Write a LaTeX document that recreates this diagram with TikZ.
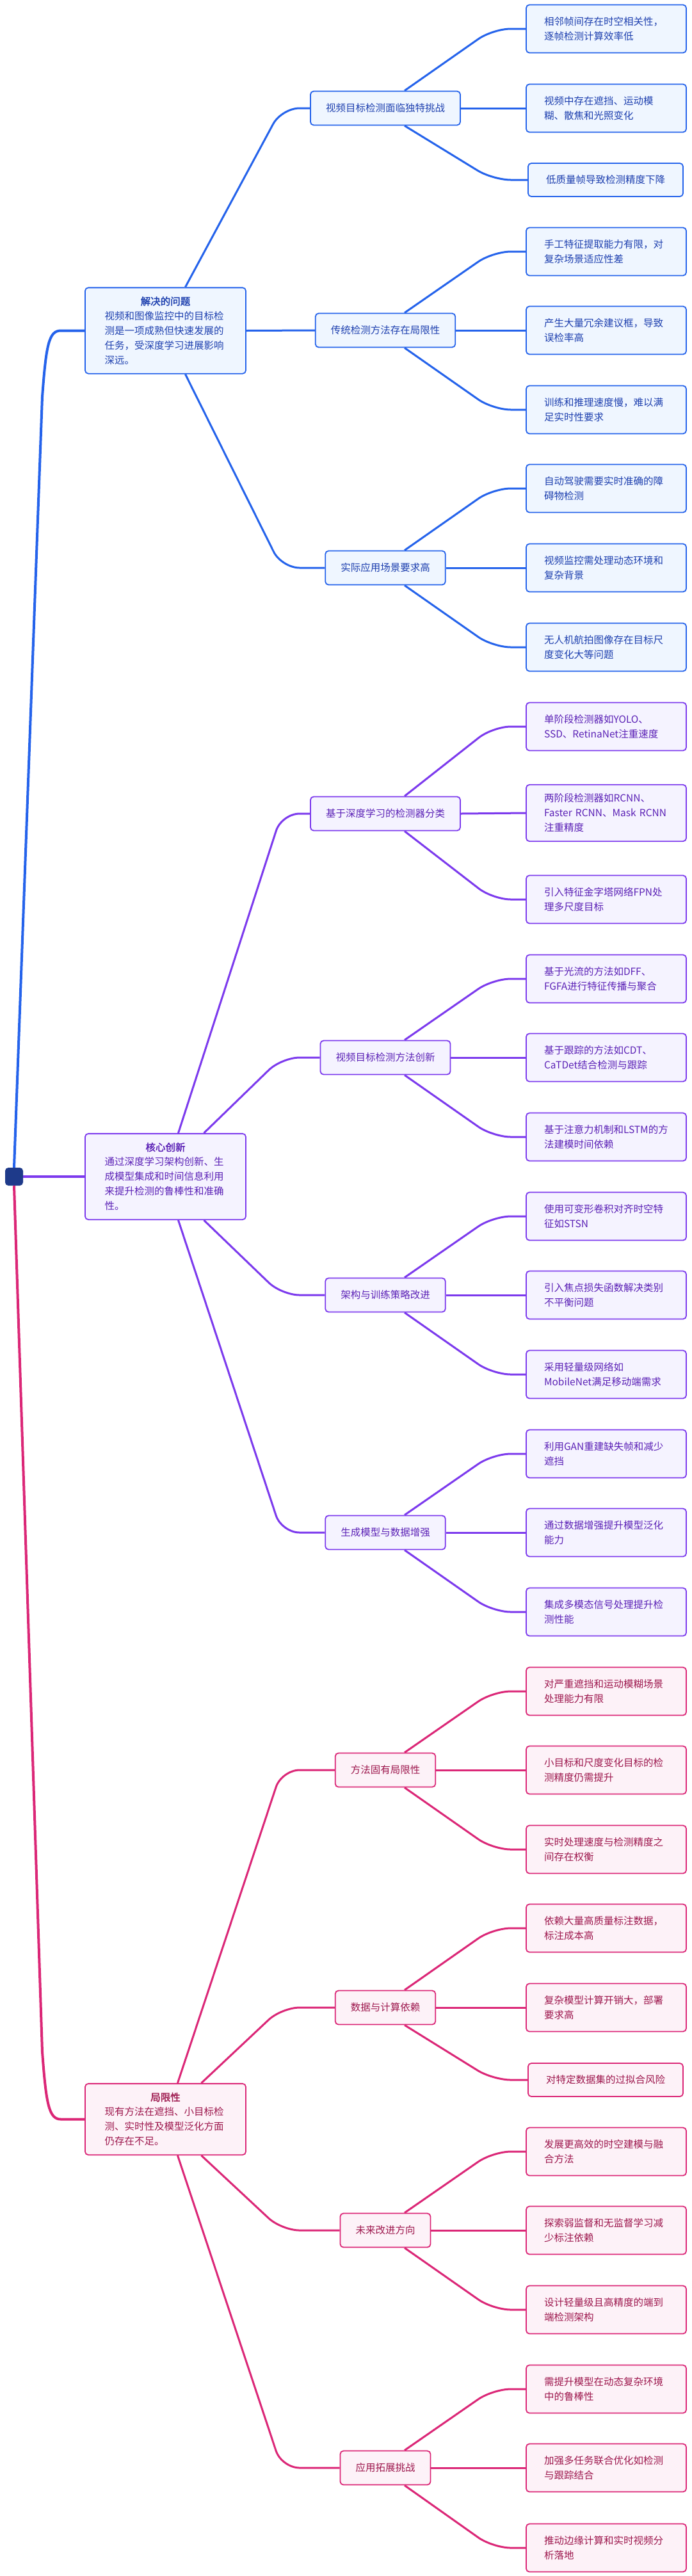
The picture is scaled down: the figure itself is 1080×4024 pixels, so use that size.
\documentclass[tikz,border=0pt]{standalone}
\usepackage{fontspec}
\setmainfont{Noto Sans CJK SC}[AutoFakeBold=2]
\begin{document}
\definecolor{bL}{HTML}{2563EB}\definecolor{bF}{HTML}{EFF6FF}\definecolor{bT}{HTML}{1E40AF}
\definecolor{pL}{HTML}{7C3AED}\definecolor{pF}{HTML}{F5F3FF}\definecolor{pT}{HTML}{5B21B6}
\definecolor{kL}{HTML}{DB2777}\definecolor{kF}{HTML}{FDF2F8}\definecolor{kT}{HTML}{9D174D}
\definecolor{rootc}{HTML}{1E3A8A}
\begin{tikzpicture}[x=1pt,y=-1pt,
  base/.style={draw=#1L,fill=#1F,text=#1T,line width=1.8pt,rounded corners=5pt,font=\fontsize{15.5}{23}\selectfont},
  leaf/.style={base=#1,text width=194pt,inner xsep=28pt,inner ysep=14pt,minimum height=75pt,align=left},
  leaf1/.style={base=#1,minimum width=242pt,minimum height=52pt,align=center},
  mid/.style={base=#1,inner xsep=24pt,minimum height=53pt},
  top/.style={base=#1,text width=190pt,inner xsep=30.5pt,inner ysep=14pt,align=left},
  ln/.style={draw=#1L,line width=3pt,rounded corners=28pt},
  rl/.style={draw=#1L,line width=4pt}]
\useasboundingbox (0,0) rectangle (1080,4024);
\coordinate (bxL) at (770,0);
\coordinate (bxM) at (440,0);
\newcommand\lup[3]{\draw[ln=#1] ([xshift=30pt]#2.north) -- (bxL |- #3.west) -- (#3.west);}
\newcommand\ldn[3]{\draw[ln=#1] ([xshift=30pt]#2.south) -- (bxL |- #3.west) -- (#3.west);}
\newcommand\lst[3]{\draw[ln=#1] (#2.east) -- (#3.west);}
\newcommand\mup[4]{\draw[ln=#1] ([xshift=#4]#2.north) -- (bxM |- #3.west) -- (#3.west);}
\newcommand\mdn[4]{\draw[ln=#1] ([xshift=#4]#2.south) -- (bxM |- #3.west) -- (#3.west);}

% root
\node[fill=rootc,rounded corners=5pt,minimum size=28pt,inner sep=0pt] (R) at (22,1838) {};

% ===== group A (blue)
\node[top=b] (A) at (258.5,516.5) {\makebox[190pt]{\bfseries 解决的问题}\\视频和图像监控中的目标检\\测是一项成熟但快速发展的\\任务，受深度学习进展影响\\深远。};
\node[mid=b] (A1) at (602,169) {视频目标检测面临独特挑战};
\node[mid=b] (A2) at (602,516) {传统检测方法存在局限性};
\node[mid=b] (A3) at (602,887) {实际应用场景要求高};
\node[leaf=b] (a11) at (947,45) {相邻帧间存在时空相关性，\\逐帧检测计算效率低};
\node[leaf=b] (a12) at (947,169) {视频中存在遮挡、运动模\\糊、散焦和光照变化};
\node[leaf1=b] (a13) at (946,281) {低质量帧导致检测精度下降};
\node[leaf=b] (a21) at (947,393) {手工特征提取能力有限，对\\复杂场景适应性差};
\node[leaf=b] (a22) at (947,516) {产生大量冗余建议框，导致\\误检率高};
\node[leaf=b] (a23) at (947,640) {训练和推理速度慢，难以满\\足实时性要求};
\node[leaf=b] (a31) at (947,763) {自动驾驶需要实时准确的障\\碍物检测};
\node[leaf=b] (a32) at (947,887) {视频监控需处理动态环境和\\复杂背景};
\node[leaf=b] (a33) at (947,1011) {无人机航拍图像存在目标尺\\度变化大等问题};

% ===== group B (purple)
\node[top=p] (B) at (258.5,1838) {\makebox[190pt]{\bfseries 核心创新}\\通过深度学习架构创新、生\\成模型集成和时间信息利用\\来提升检测的鲁棒性和准确\\性。};
\node[mid=p] (B1) at (602,1271) {基于深度学习的检测器分类};
\node[mid=p] (B2) at (602,1652) {视频目标检测方法创新};
\node[mid=p] (B3) at (602,2023) {架构与训练策略改进};
\node[mid=p] (B4) at (602,2394) {生成模型与数据增强};
\node[leaf=p] (b11) at (947,1135) {单阶段检测器如YOLO、\\SSD、RetinaNet注重速度};
\node[leaf=p] (b12) at (947,1270) {两阶段检测器如RCNN、\\Faster RCNN、Mask RCNN\\注重精度};
\node[leaf=p] (b13) at (947,1405) {引入特征金字塔网络FPN处\\理多尺度目标};
\node[leaf=p] (b21) at (947,1529) {基于光流的方法如DFF、\\FGFA进行特征传播与聚合};
\node[leaf=p] (b22) at (947,1652) {基于跟踪的方法如CDT、\\CaTDet结合检测与跟踪};
\node[leaf=p] (b23) at (947,1776) {基于注意力机制和LSTM的方\\法建模时间依赖};
\node[leaf=p] (b31) at (947,1900) {使用可变形卷积对齐时空特\\征如STSN};
\node[leaf=p] (b32) at (947,2023) {引入焦点损失函数解决类别\\不平衡问题};
\node[leaf=p] (b33) at (947,2147) {采用轻量级网络如\\MobileNet满足移动端需求};
\node[leaf=p] (b41) at (947,2271) {利用GAN重建缺失帧和减少\\遮挡};
\node[leaf=p] (b42) at (947,2394) {通过数据增强提升模型泛化\\能力};
\node[leaf=p] (b43) at (947,2518) {集成多模态信号处理提升检\\测性能};

% ===== group C (pink)
\node[top=k] (C) at (258.5,3310.5) {\makebox[190pt]{\bfseries 局限性}\\现有方法在遮挡、小目标检\\测、实时性及模型泛化方面\\仍存在不足。};
\node[mid=k] (C1) at (602,2765) {方法固有局限性};
\node[mid=k] (C2) at (602,3136) {数据与计算依赖};
\node[mid=k] (C3) at (602,3484) {未来改进方向};
\node[mid=k] (C4) at (602,3855) {应用拓展挑战};
\node[leaf=k] (c11) at (947,2642) {对严重遮挡和运动模糊场景\\处理能力有限};
\node[leaf=k] (c12) at (947,2765) {小目标和尺度变化目标的检\\测精度仍需提升};
\node[leaf=k] (c13) at (947,2889) {实时处理速度与检测精度之\\间存在权衡};
\node[leaf=k] (c21) at (947,3012) {依赖大量高质量标注数据，\\标注成本高};
\node[leaf=k] (c22) at (947,3136) {复杂模型计算开销大，部署\\要求高};
\node[leaf1=k] (c23) at (946,3249) {对特定数据集的过拟合风险};
\node[leaf=k] (c31) at (947,3361) {发展更高效的时空建模与融\\合方法};
\node[leaf=k] (c32) at (947,3484) {探索弱监督和无监督学习减\\少标注依赖};
\node[leaf=k] (c33) at (947,3608) {设计轻量级且高精度的端到\\端检测架构};
\node[leaf=k] (c41) at (947,3732) {需提升模型在动态复杂环境\\中的鲁棒性};
\node[leaf=k] (c42) at (947,3855) {加强多任务联合优化如检测\\与跟踪结合};
\node[leaf=k] (c43) at (947,3980) {推动边缘计算和实时视频分\\析落地};

% ===== connectors: root -> L1
\coordinate (ra) at (95,0);
\begin{scope}[on background layer/.style={}]
\draw[rl=b] (R.north) -- (66,620) .. controls (72,540) and (76,516.5) .. (ra |- A.west) -- (A.west);
\draw[rl=p] (R.east) -- (B.west);
\draw[rl=k] (R.south) -- (66,3205) .. controls (72,3285) and (76,3310.5) .. (ra |- C.west) -- (C.west);
\end{scope}

% L1 -> mid
\mup{b}{A}{A1}{31pt} \lst{b}{A}{A2} \mdn{b}{A}{A3}{31pt}
\mup{p}{B}{B1}{20pt} \mup{p}{B}{B2}{60pt} \mdn{p}{B}{B3}{60pt} \mdn{p}{B}{B4}{20pt}
\mup{k}{C}{C1}{19pt} \mup{k}{C}{C2}{56pt} \mdn{k}{C}{C3}{56pt} \mdn{k}{C}{C4}{19pt}

% mid -> leaf
\lup{b}{A1}{a11} \lst{b}{A1}{a12} \ldn{b}{A1}{a13}
\lup{b}{A2}{a21} \lst{b}{A2}{a22} \ldn{b}{A2}{a23}
\lup{b}{A3}{a31} \lst{b}{A3}{a32} \ldn{b}{A3}{a33}
\lup{p}{B1}{b11} \lst{p}{B1}{b12} \ldn{p}{B1}{b13}
\lup{p}{B2}{b21} \lst{p}{B2}{b22} \ldn{p}{B2}{b23}
\lup{p}{B3}{b31} \lst{p}{B3}{b32} \ldn{p}{B3}{b33}
\lup{p}{B4}{b41} \lst{p}{B4}{b42} \ldn{p}{B4}{b43}
\lup{k}{C1}{c11} \lst{k}{C1}{c12} \ldn{k}{C1}{c13}
\lup{k}{C2}{c21} \lst{k}{C2}{c22} \ldn{k}{C2}{c23}
\lup{k}{C3}{c31} \lst{k}{C3}{c32} \ldn{k}{C3}{c33}
\lup{k}{C4}{c41} \lst{k}{C4}{c42} \ldn{k}{C4}{c43}
\end{tikzpicture}
\end{document}
